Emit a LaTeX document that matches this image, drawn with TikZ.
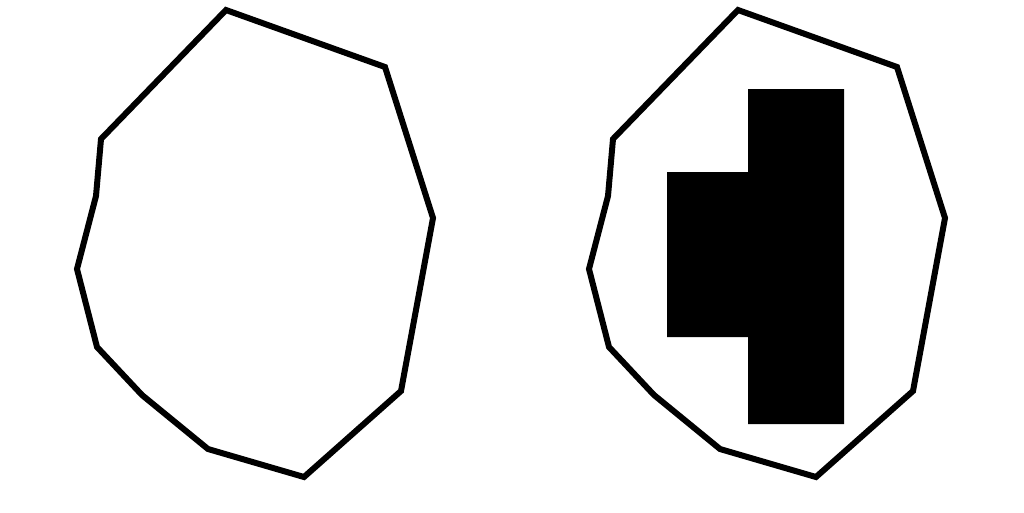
\documentclass[tikz,border=0pt]{standalone}
\usetikzlibrary{positioning}

\begin{document}
\begin{tikzpicture}[
    x=0.02cm, y=-0.02cm,
    outline/.style={draw=black, line width=6*0.02cm, line join=miter},
    blob/.style={fill=black}
]
    % Frame (1024 x 512)
    \useasboundingbox (0,0) rectangle (1024,512);

    % Outlines, left and right copy
    \foreach \dx in {0, 512} {
        \draw[outline, xshift=\dx*0.02cm]
            (226,10) -- (385,67) -- (433,218) -- (401,391) -- (304,477)
            -- (208,449) -- (142,395) -- (97,347) -- (77,269) -- (96,196)
            -- (101,139) -- cycle;
    }

    % Filled region inside the right outline
    \fill[blob] (748,89) -- (844,89) -- (844,424) -- (748,424) -- (748,337)
        -- (667,337) -- (667,172) -- (748,172) -- cycle;
\end{tikzpicture}
\end{document}
